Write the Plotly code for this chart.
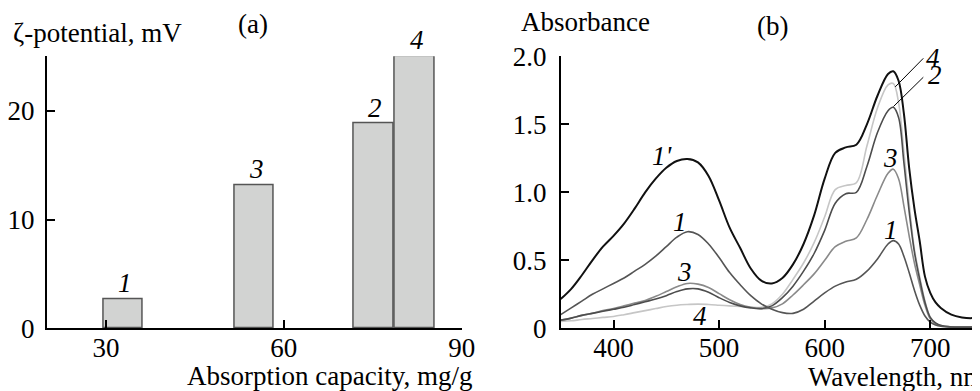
import plotly.graph_objects as go

# ---------------- data: panel (a) ----------------
capacity = [32.9, 55.0, 75.1, 82.1]          # mg/g (bar centres)
zeta = [2.7, 13.15, 18.8, 25.0]              # mV
bar_labels = ["1", "3", "2", "4"]
a_xticks = [30, 60, 90]
a_yticks = [0, 10, 20]

# ---------------- data: panel (b) ----------------
wavelength = [350, 360, 370, 380, 390, 400, 410, 420, 430, 440, 450, 460, 470, 480,
              490, 500, 510, 520, 530, 540, 550, 560, 570, 580, 590, 600, 610, 620,
              630, 640, 650, 660, 665, 670, 675, 680, 685, 690, 695, 700, 705, 710,
              720, 730, 740, 750]
abs_1p = [0.215, 0.29, 0.39, 0.50, 0.60, 0.68, 0.77, 0.88, 1.00, 1.10, 1.18, 1.23, 1.245, 1.22,
          1.12, 0.94, 0.74, 0.59, 0.44, 0.35, 0.33, 0.37, 0.47, 0.62, 0.83, 1.10, 1.29, 1.33,
          1.35, 1.50, 1.71, 1.87, 1.89, 1.82, 1.58, 1.18, 0.88, 0.64, 0.38, 0.26, 0.19, 0.15,
          0.10, 0.08, 0.075, 0.085]
abs_1 = [0.10, 0.15, 0.20, 0.25, 0.29, 0.33, 0.37, 0.42, 0.47, 0.53, 0.60, 0.67, 0.71, 0.69,
         0.62, 0.52, 0.41, 0.32, 0.24, 0.18, 0.14, 0.115, 0.11, 0.14, 0.20, 0.26, 0.31, 0.34,
         0.36, 0.42, 0.51, 0.62, 0.645, 0.62, 0.53, 0.41, 0.28, 0.17, 0.09, 0.045, 0.025, 0.015,
         0.01, 0.01, 0.01, 0.01]
abs_2 = [0.06, 0.075, 0.095, 0.11, 0.125, 0.14, 0.155, 0.175, 0.195, 0.215, 0.24, 0.27, 0.29, 0.29,
         0.265, 0.225, 0.19, 0.165, 0.15, 0.145, 0.165, 0.225, 0.31, 0.42, 0.55, 0.72, 0.92, 0.99,
         1.00, 1.19, 1.44, 1.60, 1.625, 1.55, 1.22, 0.86, 0.56, 0.36, 0.19, 0.08, 0.04, 0.02,
         0.01, 0.008, 0.008, 0.008]
abs_3 = [0.06, 0.075, 0.095, 0.11, 0.13, 0.145, 0.165, 0.185, 0.205, 0.235, 0.27, 0.305, 0.33, 0.325,
         0.30, 0.255, 0.21, 0.175, 0.155, 0.145, 0.15, 0.18, 0.245, 0.32, 0.40, 0.50, 0.60, 0.64,
         0.665, 0.80, 0.98, 1.14, 1.17, 1.10, 0.90, 0.68, 0.48, 0.32, 0.17, 0.07, 0.035, 0.02,
         0.01, 0.008, 0.008, 0.008]
abs_4 = [0.05, 0.055, 0.065, 0.072, 0.08, 0.087, 0.10, 0.115, 0.13, 0.145, 0.16, 0.17, 0.175, 0.178,
         0.175, 0.17, 0.165, 0.16, 0.155, 0.155, 0.18, 0.25, 0.36, 0.48, 0.63, 0.82, 1.02, 1.05,
         1.07, 1.34, 1.62, 1.79, 1.80, 1.66, 1.30, 0.92, 0.58, 0.38, 0.20, 0.08, 0.035, 0.02,
         0.01, 0.008, 0.008, 0.008]
b_xticks = [400, 500, 600, 700]
b_yticks = [0, 0.5, 1.0, 1.5, 2.0]
b_yticktext = ["0", "0.5", "1.0", "1.5", "2.0"]

# curve labels (text, wavelength, absorbance)
curve_labels = [("1'", 446, 1.27), ("1", 463, 0.78), ("3", 467.5, 0.415), ("4", 482, 0.09),
                ("3", 662, 1.25), ("1", 662.5, 0.72), ("4", 702.5, 1.99), ("2", 704.5, 1.865)]
leaders = [((693.4, 1.985), (666.8, 1.775)), ((693.4, 1.846), (665.2, 1.631))]

# The page body has an 8px margin: size/offset the figure so the window shows it as intended
OFF = 8
W, H = 980 - OFF, 391 - OFF
FONT = "Liberation Serif, Times New Roman, serif"
FS = 27


def px(x):
    return (x - OFF) / W


def py(y):
    return 1 - (y - OFF) / H


fig = go.Figure()

fig.add_trace(go.Bar(x=capacity, y=zeta, width=6.7, xaxis="x", yaxis="y",
                     marker=dict(color="#d2d3d2", line=dict(color="#555555", width=1.5)),
                     showlegend=False))

series = [(abs_4, "#c6c6c6", 1.6), (abs_3, "#8a8a8a", 1.6), (abs_2, "#4d4d4d", 1.6),
          (abs_1, "#555555", 1.6), (abs_1p, "#111111", 2.0)]
for ys, col, lw in series:
    fig.add_trace(go.Scatter(x=wavelength, y=ys, mode="lines", xaxis="x2", yaxis="y2",
                             line=dict(color=col, width=lw, shape="spline", smoothing=1.0),
                             showlegend=False))

ydom = [py(328.3), py(56.3)]
axis_common = dict(showline=True, linecolor="black", linewidth=1.5, ticks="inside",
                   ticklen=9, tickwidth=1.5, tickcolor="black", showgrid=False,
                   zeroline=False, tickfont=dict(family=FONT, size=FS, color="black"))

fig.update_layout(
    width=W, height=H, margin=dict(l=0, r=0, t=0, b=0, autoexpand=False),
    paper_bgcolor="white", plot_bgcolor="rgba(0,0,0,0)",
    font=dict(family=FONT, size=FS, color="black"),
    bargap=0,
    xaxis=dict(domain=[px(46.7), px(461.7)], range=[20, 90], tickvals=a_xticks,
               anchor="y", ticklabelstandoff=-5, **axis_common),
    yaxis=dict(domain=ydom, range=[0, 25], tickvals=a_yticks, anchor="x",
               ticklabelstandoff=5, **axis_common),
    xaxis2=dict(domain=[px(560.7), 1.0], range=[350, 747.1], tickvals=b_xticks,
                anchor="y2", ticklabelstandoff=-5, **axis_common),
    yaxis2=dict(domain=ydom, range=[0, 2.0], tickvals=b_yticks, ticktext=b_yticktext,
                anchor="x2", ticklabelstandoff=7, **axis_common),
)

ann = []
# bar labels
for xv, yv, t in zip(capacity, zeta, bar_labels):
    ann.append(dict(x=xv, y=yv, xref="x", yref="y", text=t, showarrow=False,
                    xshift=2, yshift=16, yanchor="middle",
                    font=dict(family=FONT, size=FS, style="italic")))
# curve labels
for t, xv, yv in curve_labels:
    ann.append(dict(x=xv, y=yv, xref="x2", yref="y2", text=t, showarrow=False,
                    yanchor="middle", font=dict(family=FONT, size=FS, style="italic")))


def paper_txt(text, x, y, xanchor="left"):
    return dict(x=px(x), y=py(y), xref="paper", yref="paper", text=text,
                showarrow=False, xanchor=xanchor, yanchor="middle",
                font=dict(family=FONT, size=FS))


ann += [
    paper_txt("ζ-potential, mV", 11, 33),
    paper_txt("(a)", 253, 24, "center"),
    paper_txt("Absorbance", 519, 22),
    paper_txt("(b)", 772, 26, "center"),
    paper_txt("Absorption capacity, mg/g", 474, 376, "right"),
    paper_txt("Wavelength, nm", 806, 377),
]
fig.update_layout(annotations=ann)

shapes = []
for (x0, y0), (x1, y1) in leaders:
    shapes.append(dict(type="line", xref="x2", yref="y2", x0=x0, y0=y0, x1=x1, y1=y1,
                       line=dict(color="black", width=1)))
fig.update_layout(shapes=shapes)

fig.write_html("out.html")
